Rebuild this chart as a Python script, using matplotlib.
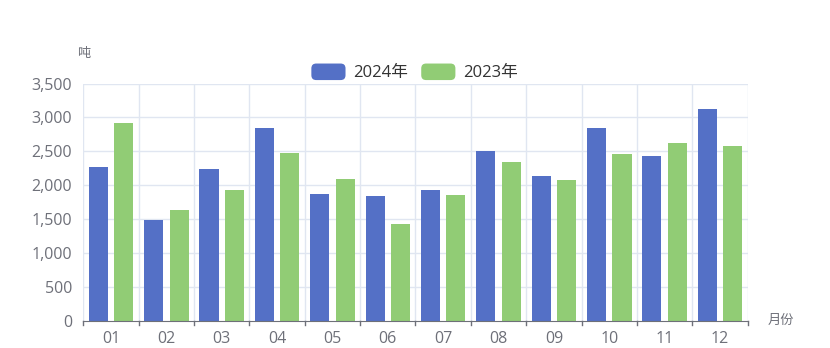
import numpy as np
import matplotlib.pyplot as plt
from matplotlib.patches import Patch, FancyBboxPatch
from matplotlib.legend_handler import HandlerBase

plt.rcParams['font.family'] = ['Open Sans', 'Noto Sans CJK SC', 'DejaVu Sans']

months = ['01', '02', '03', '04', '05', '06', '07', '08', '09', '10', '11', '12']
y2024 = [2270, 1480, 2240, 2840, 1865, 1840, 1930, 2510, 2140, 2840, 2430, 3120]
y2023 = [2920, 1630, 1930, 2480, 2090, 1430, 1860, 2340, 2070, 2465, 2620, 2570]
yticks = [0, 500, 1000, 1500, 2000, 2500, 3000, 3500]

blue = '#5470c6'
green = '#91cc75'
grid_c = '#e0e6f1'
axis_c = '#6e7079'


class RoundHandler(HandlerBase):
    # rounded legend swatch like echarts
    def create_artists(self, legend, orig, xdescent, ydescent, width, height, fontsize, trans):
        p = FancyBboxPatch((-xdescent, -ydescent), width, height,
                           boxstyle="round,pad=0,rounding_size=3.5",
                           fc=orig.get_facecolor(), ec='none', transform=trans)
        return [p]


fig = plt.figure(figsize=(8.3, 3.48), dpi=100)
ax = fig.add_axes([0.1004, 0.079, 0.8004, 0.681])

x = np.arange(len(months))
w = 0.345
ax.bar(x - 0.23, y2024, width=w, color=blue, zorder=3)
ax.bar(x + 0.23, y2023, width=w, color=green, zorder=3)

ax.set_xlim(-0.5, len(months) - 0.5)
ax.set_ylim(0, 3500)

ax.set_yticks(yticks)
ax.set_yticklabels([f'{v:,}' for v in yticks])
ax.set_xticks(x)
ax.set_xticklabels(months)
ax.tick_params(axis='x', length=0, pad=7.5, labelsize=11.5, labelcolor=axis_c)
ax.tick_params(axis='y', length=0, pad=8, labelsize=11.5, labelcolor=axis_c)

# grid lines at category boundaries and y ticks
for b in np.arange(-0.5, len(months) + 0.5, 1):
    ax.axvline(b, color=grid_c, lw=1, zorder=1)
    ax.plot([b, b], [0, -0.02], transform=ax.get_xaxis_transform(), color=axis_c,
            lw=1, clip_on=False, zorder=4)
for v in yticks[1:]:
    ax.axhline(v, color=grid_c, lw=1, zorder=1)

for s in ['top', 'right', 'left']:
    ax.spines[s].set_visible(False)
ax.spines['bottom'].set_color(axis_c)
ax.spines['bottom'].set_zorder(4)

fig.text(77 / 830, 1 - 53 / 348, '吨', fontsize=9.5, color=axis_c, va='center', ha='left')
fig.text(768 / 830, 1 - 320 / 348, '月份', fontsize=9.5, color=axis_c, va='center', ha='left')

handles = [Patch(facecolor=blue, label='2024年'), Patch(facecolor=green, label='2023年')]
fig.legend(handles=handles, loc='center', bbox_to_anchor=(0.4994, 0.7917), ncol=2,
           frameon=False, fontsize=12, handlelength=2.05, handleheight=1.15,
           handletextpad=0.45, columnspacing=0.8, labelcolor='#333333',
           handler_map={Patch: RoundHandler()})

fig.savefig('out.png', dpi=100)
